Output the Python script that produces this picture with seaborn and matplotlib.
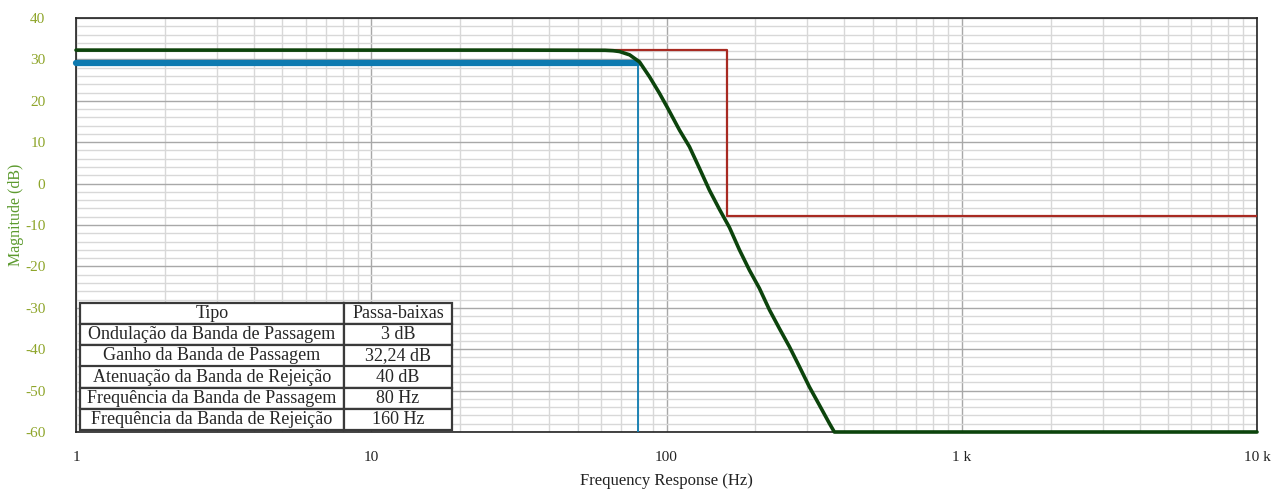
import matplotlib
matplotlib.use("Agg")
import matplotlib.pyplot as plt
import matplotlib.ticker as mticker
import seaborn as sns
import pandas as pd

# Filter response
resp_freq = [1, 30, 62, 66, 69.3, 75, 81, 87.6, 94.7, 101, 110.7, 119.6, 129.3, 139.8,
             151.1, 163.4, 176.6, 190.9, 206.4, 223.2, 241.2, 260.8, 281.9, 304.7,
             329.5, 356.1, 370.3, 1000, 10000]
resp_db = [32.24, 32.24, 32.2, 32.1, 31.9, 31.1, 29.4, 25.8, 21.8, 18.2, 12.9, 8.9,
           3.7, -1.6, -6.2, -10.6, -16.0, -20.9, -25.3, -30.5, -35.0, -39.4, -44.2,
           -49.1, -53.5, -57.9, -60, -60, -60]

# Passband spec (blue)
pass_freq = [1, 80]
pass_db = [29.24, 29.24]
pass_edge_freq = [80, 80]
pass_edge_db = [29.24, -60]

# Stopband mask (red)
stop_freq = [1, 160, 160, 10000]
stop_db = [32.24, 32.24, -7.76, -7.76]

table_rows = [
    ["Tipo", "Passa-baixas"],
    ["Ondulação da Banda de Passagem", "3 dB"],
    ["Ganho da Banda de Passagem", "32,24 dB"],
    ["Atenuação da Banda de Rejeição", "40 dB"],
    ["Frequência da Banda de Passagem", "80 Hz"],
    ["Frequência da Banda de Rejeição", "160 Hz"],
]

sns.set_style("white")
plt.rcParams["font.family"] = ["Liberation Serif", "DejaVu Serif"]
plt.rcParams["axes.unicode_minus"] = False

fig = plt.figure(figsize=(12.82, 4.91), dpi=100)
ax = fig.add_axes([76 / 1282, 1 - 432 / 491, (1257 - 76) / 1282, (432 - 18) / 491])

sns.lineplot(x=stop_freq, y=stop_db, ax=ax, color="#a82a22", lw=1.6, sort=False,
             estimator=None, zorder=3)
sns.lineplot(x=pass_freq, y=pass_db, ax=ax, color="#0d7ab0", lw=4.5, sort=False,
             estimator=None, zorder=4, clip_on=False)
sns.lineplot(x=pass_edge_freq, y=pass_edge_db, ax=ax, color="#0d7ab0", lw=1.3,
             sort=False, estimator=None, zorder=4)
sns.lineplot(x=resp_freq, y=resp_db, ax=ax, color="#0c440c", lw=2.6, sort=False,
             estimator=None, zorder=5, clip_on=False)

ax.set_xscale("log")
ax.set_xlim(1, 10000)
ax.set_ylim(-60, 40)

ax.xaxis.set_minor_locator(mticker.LogLocator(base=10, subs=range(2, 10), numticks=20))
ax.xaxis.set_minor_formatter(mticker.NullFormatter())
ax.set_xticks([1, 10, 100, 1000, 10000])
ax.set_xticklabels(["1", "10", "100", "1 k", "10 k"])
ax.yaxis.set_major_locator(mticker.MultipleLocator(10))
ax.yaxis.set_minor_locator(mticker.MultipleLocator(2))

ax.grid(which="major", color="#a8a8a8", lw=1.0)
ax.grid(which="minor", color="#d8d8d8", lw=1.0)
ax.set_axisbelow(True)
ax.tick_params(which="both", length=0)
ax.tick_params(axis="y", pad=22, labelsize=11, labelcolor="#8ea52a")
ax.tick_params(axis="x", pad=14, labelsize=11, labelcolor="#222222")

for sp in ax.spines.values():
    sp.set_color("#222222")
    sp.set_linewidth(1.2)

ax.set_ylabel("Magnitude (dB)", fontsize=11.5, color="#5c9a2e")
ax.yaxis.set_label_coords(-0.044, 0.525)
ax.set_xlabel("Frequency Response (Hz)", fontsize=12, color="#222222", labelpad=6)

df = pd.DataFrame(table_rows)
tbl = ax.table(cellText=df.values.tolist(), cellLoc="center",
               bbox=[(80 - 76) / 1181, (432 - 430) / 414, (452 - 80) / 1181, (430 - 303) / 414],
               colWidths=[(344 - 80), (452 - 344)])
tbl.auto_set_font_size(False)
tbl.set_fontsize(13)
for cell in tbl.get_celld().values():
    cell.set_edgecolor("#3a3a3a")
    cell.set_linewidth(1.6)
    cell.set_facecolor("white")
tbl.set_zorder(6)

fig.savefig("out.png", dpi=100)
